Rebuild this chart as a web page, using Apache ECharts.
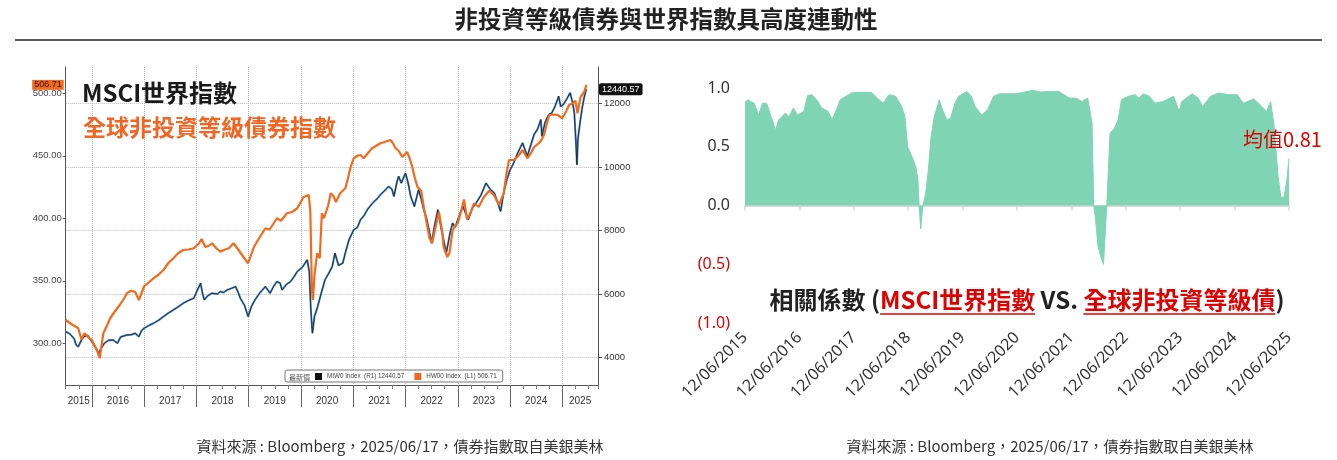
<!DOCTYPE html>
<html>
<head>
<meta charset="utf-8">
<title>ECharts</title>
<script src="https://cdn.jsdelivr.net/npm/echarts@6/dist/echarts.min.js"></script>
<style>
body { margin: 0; background: #fff; }
#main { width: 1337px; height: 460px; }
</style>
</head>
<body>
<div id="main"></div>
<script type="text/javascript">
// ---- left panel: HY index (left axis) and MSCI World (right axis), x = decimal year
var hyDates = [2015.50, 2015.62, 2015.74, 2015.80, 2015.86, 2015.95, 2016.00, 2016.10, 2016.15, 2016.22,
  2016.30, 2016.35, 2016.45, 2016.54, 2016.62, 2016.67, 2016.75, 2016.83, 2016.90, 2016.95,
  2017.00, 2017.10, 2017.18, 2017.28, 2017.37, 2017.46, 2017.56, 2017.65, 2017.75, 2017.85,
  2017.95, 2018.05, 2018.10, 2018.17, 2018.24, 2018.30, 2018.38, 2018.46, 2018.55, 2018.62,
  2018.71, 2018.80, 2018.90, 2018.99, 2019.10, 2019.20, 2019.32, 2019.40, 2019.48, 2019.54,
  2019.62, 2019.73, 2019.83, 2019.93, 2020.05, 2020.15, 2020.18, 2020.21, 2020.23, 2020.26,
  2020.31, 2020.36, 2020.40, 2020.44, 2020.47, 2020.52, 2020.57, 2020.62, 2020.67, 2020.75,
  2020.85, 2020.90, 2020.95, 2021.01, 2021.08, 2021.14, 2021.20, 2021.28, 2021.36, 2021.44,
  2021.52, 2021.60, 2021.71, 2021.76, 2021.81, 2021.87, 2021.94, 2022.03, 2022.08, 2022.13,
  2022.18, 2022.23, 2022.30, 2022.35, 2022.42, 2022.46, 2022.51, 2022.56, 2022.64, 2022.70,
  2022.73, 2022.80, 2022.84, 2022.90, 2022.95, 2023.00, 2023.06, 2023.12, 2023.18, 2023.25,
  2023.31, 2023.40, 2023.50, 2023.60, 2023.69, 2023.79, 2023.88, 2023.93, 2023.98, 2024.08,
  2024.16, 2024.24, 2024.33, 2024.40, 2024.46, 2024.55, 2024.60, 2024.65, 2024.70, 2024.75,
  2024.85, 2024.91, 2025.00, 2025.08, 2025.13, 2025.20, 2025.25, 2025.29, 2025.35, 2025.42, 2025.46];
var hyValues = [318.6, 315, 312, 303, 308, 304, 302.6, 294, 288, 308,
  315, 320, 326, 331, 336, 340, 342, 341, 334.6, 340,
  345.6, 349, 352, 355, 358.6, 364, 368, 372, 374.6, 375,
  376, 380, 383.4, 377, 378, 380, 376, 373.3, 375, 376,
  380, 375, 369, 364, 377, 384, 392, 391, 396, 400,
  398, 404, 405, 408, 417, 418.6, 405, 342.6, 334.6, 355,
  372, 368, 404, 400, 398.6, 410, 420, 418, 413, 420,
  424, 432, 441, 448, 450, 450.6, 448, 452, 456, 458,
  460, 461, 462.6, 460, 456, 454, 449, 453, 448, 441,
  432, 425, 422, 409, 393, 384, 380, 390, 405, 390,
  377, 369, 372, 390, 394, 396, 405, 415, 399, 405,
  412, 409, 417, 422, 418.6, 410.6, 420, 435, 446.6, 446.6,
  450, 454.6, 448, 452, 457, 460, 462.6, 466.6, 475, 482.6,
  483, 482.6, 480, 486, 490.6, 492, 494, 484, 497, 501, 506.71];

var msciDates = [2015.50, 2015.58, 2015.66, 2015.70, 2015.74, 2015.80, 2015.85, 2015.92, 2016.00, 2016.08,
  2016.13, 2016.18, 2016.24, 2016.32, 2016.41, 2016.49, 2016.55, 2016.67, 2016.75, 2016.83,
  2016.90, 2016.95, 2017.00, 2017.10, 2017.18, 2017.28, 2017.37, 2017.46, 2017.56, 2017.65,
  2017.75, 2017.85, 2017.95, 2018.04, 2018.08, 2018.12, 2018.15, 2018.22, 2018.30, 2018.40,
  2018.46, 2018.52, 2018.59, 2018.67, 2018.75, 2018.80, 2018.84, 2018.92, 2018.99, 2019.05,
  2019.12, 2019.22, 2019.32, 2019.41, 2019.48, 2019.54, 2019.60, 2019.64, 2019.72, 2019.80,
  2019.87, 2019.93, 2020.03, 2020.12, 2020.16, 2020.19, 2020.22, 2020.26, 2020.32, 2020.40,
  2020.46, 2020.53, 2020.60, 2020.65, 2020.72, 2020.80, 2020.85, 2020.92, 2021.01, 2021.08,
  2021.14, 2021.20, 2021.27, 2021.34, 2021.40, 2021.46, 2021.52, 2021.60, 2021.68, 2021.74,
  2021.78, 2021.84, 2021.87, 2021.92, 2022.00, 2022.05, 2022.10, 2022.17, 2022.25, 2022.30,
  2022.35, 2022.40, 2022.45, 2022.50, 2022.55, 2022.62, 2022.68, 2022.73, 2022.78, 2022.85,
  2022.90, 2022.95, 2023.00, 2023.06, 2023.10, 2023.16, 2023.20, 2023.28, 2023.35, 2023.44,
  2023.54, 2023.62, 2023.70, 2023.76, 2023.82, 2023.88, 2023.94, 2024.00, 2024.07, 2024.15,
  2024.24, 2024.33, 2024.40, 2024.46, 2024.53, 2024.59, 2024.61, 2024.67, 2024.74, 2024.80,
  2024.86, 2024.93, 2024.97, 2025.02, 2025.09, 2025.15, 2025.20, 2025.23, 2025.26, 2025.28,
  2025.30, 2025.34, 2025.38, 2025.42, 2025.46];
var msciValues = [4819, 4750, 4600, 4400, 4346, 4550, 4661, 4700, 4504, 4300,
  4139, 4300, 4453, 4550, 4557, 4453, 4650, 4715, 4720, 4767,
  4661, 4850, 4926, 5020, 5083, 5180, 5292, 5400, 5503, 5600,
  5713, 5800, 5871, 6200, 6344, 6000, 5817, 5950, 6029, 6000,
  6081, 6050, 6133, 6180, 6237, 6050, 5871, 5650, 5292, 5600,
  5817, 6050, 6237, 6029, 6250, 6394, 6350, 6133, 6300, 6394,
  6550, 6709, 6850, 7077, 6709, 5500, 4769, 5300, 5607, 6100,
  6447, 6650, 6867, 7288, 6900, 6972, 7300, 7708, 8023, 8100,
  8338, 8450, 8653, 8800, 8914, 9000, 9125, 9250, 9386, 9300,
  9072, 9550, 9702, 9492, 9808, 9500, 9072, 8757, 9282, 9000,
  8653, 8400, 8023, 7604, 8100, 8653, 8100, 7700, 7288, 7900,
  8234, 8100, 8338, 8600, 8757, 8500, 8338, 8700, 8862, 9100,
  9493, 9300, 9177, 8900, 8600, 9200, 9597, 9900, 10124, 10450,
  10754, 10334, 10700, 11015, 11200, 11488, 10964, 11400, 11645, 11700,
  11900, 12222, 11900, 11960, 12150, 12329, 12000, 11698, 10800, 10070,
  10900, 11400, 11855, 12200, 12440.57];

var lastMsci = 12440.57;
var lastHy = 506.71;
var yearBounds = [2016, 2017, 2018, 2019, 2020, 2021, 2022, 2023, 2024, 2025];
var yearLabelValues = [2015.75, 2016.5, 2017.5, 2018.5, 2019.5, 2020.5, 2021.5, 2022.5, 2023.5, 2024.5, 2025.34];
var hyTicks = [300, 350, 400, 450, 500];
var msciTicks = [4000, 6000, 8000, 10000, 12000];

// ---- right panel: rolling correlation, x = years since 12/06/2015
var corrYears = [0.00, 0.06, 0.10, 0.17, 0.25, 0.32, 0.40, 0.47, 0.56, 0.62,
  0.74, 0.81, 0.89, 0.96, 1.08, 1.15, 1.23, 1.34, 1.41, 1.53,
  1.60, 1.68, 1.75, 1.86, 1.98, 2.13, 2.32, 2.43, 2.54, 2.65,
  2.77, 2.88, 2.94, 2.99, 3.07, 3.14, 3.18, 3.20, 3.23, 3.27,
  3.32, 3.37, 3.42, 3.48, 3.57, 3.63, 3.71, 3.78, 3.86, 3.93,
  4.08, 4.16, 4.23, 4.35, 4.46, 4.57, 4.68, 4.83, 4.98, 5.29,
  5.44, 5.59, 5.77, 5.96, 6.08, 6.19, 6.30, 6.38, 6.41, 6.44,
  6.49, 6.55, 6.59, 6.62, 6.65, 6.71, 6.79, 6.86, 6.92, 7.05,
  7.17, 7.24, 7.32, 7.43, 7.54, 7.69, 7.88, 7.98, 8.03, 8.22,
  8.33, 8.41, 8.56, 8.71, 8.89, 9.05, 9.16, 9.35, 9.50, 9.59,
  9.66, 9.72, 9.80, 9.85, 9.91, 9.96, 10.00];
var corrValues = [0.88, 0.90, 0.886, 0.87, 0.77, 0.87, 0.866, 0.77, 0.643, 0.73,
  0.786, 0.757, 0.83, 0.77, 0.80, 0.934, 0.943, 0.886, 0.83, 0.80,
  0.73, 0.814, 0.90, 0.93, 0.963, 0.963, 0.963, 0.914, 0.871, 0.943,
  0.93, 0.843, 0.757, 0.50, 0.414, 0.33, 0.214, 0.0, -0.20, 0.0,
  0.10, 0.30, 0.586, 0.757, 0.90, 0.814, 0.73, 0.743, 0.87, 0.93,
  0.97, 0.93, 0.843, 0.77, 0.814, 0.93, 0.951, 0.951, 0.951, 0.98,
  0.966, 0.971, 0.971, 0.914, 0.914, 0.886, 0.914, 0.70, 0.0, -0.10,
  -0.35, -0.45, -0.50, -0.25, 0.0, 0.614, 0.657, 0.73, 0.90, 0.93,
  0.943, 0.914, 0.951, 0.93, 0.871, 0.886, 0.93, 0.80, 0.886, 0.951,
  0.914, 0.843, 0.93, 0.957, 0.943, 0.943, 0.871, 0.906, 0.843, 0.80,
  0.886, 0.70, 0.243, 0.07, 0.07, 0.214, 0.40];
var corrMean = 0.81;
var corrTickLabels = ['12/06/2015', '12/06/2016', '12/06/2017', '12/06/2018', '12/06/2019', '12/06/2020',
  '12/06/2021', '12/06/2022', '12/06/2023', '12/06/2024', '12/06/2025'];

function pairs(xs, ys) {
  return xs.map(function (x, i) { return [x, ys[i]]; });
}

var cjk = '"Noto Sans CJK TC", "Noto Sans", sans-serif';
var orange = '#f26a1b';
var mint = '#80d4b6';
var red = '#e00000';
var source = '資料來源 : Bloomberg，2025/06/17，債券指數取自美銀美林';

// measure the right-panel caption so the red underlines sit under the red parts
var capFont = 'bold 24px ' + cjk;
var capParts = ['相關係數 (', 'MSCI世界指數', ' VS. ', '全球非投資等級債', ')'];
var mctx = document.createElement('canvas').getContext('2d');
mctx.font = capFont;
var capW = capParts.map(function (s) { return mctx.measureText(s).width; });
var capTotal = capW.reduce(function (a, b) { return a + b; }, 0);
var capCenter = 1027, capY = 300;
var capStart = capCenter - capTotal / 2;
var u1 = capStart + capW[0];
var u2 = u1 + capW[1] + capW[2];

var myChart = echarts.init(document.getElementById('main'));

var option = {
  animation: false,
  backgroundColor: '#fff',
  grid: [
    { left: 65.7, top: 67, width: 532.3, height: 318 },
    { left: 745, top: 88, width: 544, height: 235 }
  ],
  legend: {
    left: 285, top: 370, padding: [3, 6, 2, 30], itemGap: 10,
    itemWidth: 7, itemHeight: 7, icon: 'rect',
    borderColor: '#777', borderWidth: 1, borderRadius: 2, backgroundColor: '#fff',
    textStyle: { fontSize: 6.3, color: '#444', fontFamily: 'Liberation Sans' },
    data: [
      { name: 'MIW0 Index', itemStyle: { color: '#111' } },
      { name: 'HW00 Index', itemStyle: { color: orange } }
    ],
    formatter: function (name) {
      return name === 'MIW0 Index' ? name + '  (R1) ' + lastMsci : name + '  (L1) ' + lastHy;
    }
  },
  xAxis: [{
    gridIndex: 0, type: 'value', min: 2015.5, max: 2025.683, position: 'bottom',
    axisLine: { onZero: false, lineStyle: { color: '#555' } },
    axisTick: { customValues: yearBounds, length: 22, lineStyle: { color: '#666' } },
    axisLabel: {
      customValues: yearLabelValues, margin: 11, fontSize: 10, color: '#333', fontFamily: 'Liberation Sans',
      formatter: function (v) { return String(Math.floor(v)); }
    },
    splitLine: { show: true, lineStyle: { type: 'dotted', color: '#bbb' } }
  }, {
    gridIndex: 0, type: 'value', min: 2015.5, max: 2025.683, interval: 0.25, position: 'bottom',
    axisLine: { show: false, onZero: false },
    axisTick: { length: 4, lineStyle: { color: '#777' } },
    axisLabel: { show: false },
    splitLine: { show: false }
  }, {
    gridIndex: 1, type: 'value', min: 0, max: 10, interval: 1, position: 'bottom',
    axisLine: { onZero: true, lineStyle: { color: '#d9d9d9', width: 2 } },
    axisTick: { length: 5, lineStyle: { color: '#d9d9d9', width: 1.5 } },
    axisLabel: { show: false },
    splitLine: { show: false }
  }, {
    gridIndex: 1, type: 'value', min: 0, max: 10, interval: 1, position: 'bottom',
    axisLine: { show: false, onZero: false },
    axisTick: { show: false },
    axisLabel: {
      rotate: 45, margin: 12, fontSize: 16, color: '#333', fontFamily: '"Noto Sans", sans-serif',
      formatter: function (v) { return corrTickLabels[Math.round(v)]; }
    },
    splitLine: { show: false }
  }],
  yAxis: [{
    gridIndex: 0, type: 'value', min: 266.6, max: 521, position: 'left',
    axisLine: { show: true, onZero: false, lineStyle: { color: '#555' } },
    axisTick: { show: true, customValues: hyTicks, length: 3, lineStyle: { color: '#555' } },
    axisLabel: {
      customValues: hyTicks, margin: 4, fontSize: 9.5, color: '#444', fontFamily: 'Liberation Sans',
      formatter: function (v) { return Number(v).toFixed(2); }
    },
    splitLine: { show: false }
  }, {
    gridIndex: 0, type: 'value', min: 3141, max: 13142, position: 'right',
    axisLine: { show: true, onZero: false, lineStyle: { color: '#555' } },
    axisTick: { show: true, customValues: msciTicks, length: 4, lineStyle: { color: '#555' } },
    axisLabel: {
      customValues: msciTicks, margin: 6, fontSize: 9.5, color: '#333', fontFamily: 'Liberation Sans',
      formatter: function (v) { return String(v); }
    },
    splitLine: { show: true, lineStyle: { type: 'dotted', color: '#bbb' } }
  }, {
    gridIndex: 1, type: 'value', min: -1, max: 1, interval: 0.5,
    axisLine: { show: false }, axisTick: { show: false }, splitLine: { show: false },
    axisLabel: {
      margin: 15, fontSize: 16, fontFamily: '"Noto Sans", sans-serif',
      color: function (v) { return Number(v) < 0 ? red : '#333'; },
      formatter: function (v) { return v < 0 ? '(' + (-v).toFixed(1) + ')' : v.toFixed(1); }
    }
  }],
  series: [{
    name: 'MIW0 blue', type: 'line', xAxisIndex: 0, yAxisIndex: 1,
    showSymbol: false, silent: true,
    lineStyle: { color: '#4a8ad0', width: 2 }, itemStyle: { color: '#4a8ad0' },
    data: pairs(msciDates, msciValues)
  }, {
    name: 'MIW0 Index', type: 'line', xAxisIndex: 0, yAxisIndex: 1,
    showSymbol: false, silent: true,
    lineStyle: { color: '#1a1a1a', width: 0.8 }, itemStyle: { color: '#111' },
    data: pairs(msciDates, msciValues),
    markLine: {
      silent: true, symbol: 'none', lineStyle: { color: 'rgba(0,0,0,0)', width: 0 },
      label: {
        show: true, position: 'end', distance: 1, formatter: String(lastMsci),
        backgroundColor: '#111', color: '#fff', fontSize: 9, fontFamily: 'Liberation Sans',
        padding: [2, 3, 1, 3], borderRadius: 2
      },
      data: [{ yAxis: lastMsci }]
    }
  }, {
    name: 'HW00 Index', type: 'line', xAxisIndex: 0, yAxisIndex: 0,
    showSymbol: false, silent: true,
    lineStyle: { color: orange, width: 2.2 }, itemStyle: { color: orange },
    data: pairs(hyDates, hyValues),
    markLine: {
      silent: true, symbol: 'none', lineStyle: { color: 'rgba(0,0,0,0)', width: 0 },
      label: {
        show: true, position: 'start', distance: 2, formatter: lastHy.toFixed(2),
        backgroundColor: orange, color: '#2a1000', fontSize: 9, fontFamily: 'Liberation Sans',
        padding: [1, 2, 0, 2]
      },
      data: [{ yAxis: lastHy }]
    }
  }, {
    name: 'corr', type: 'line', xAxisIndex: 3, yAxisIndex: 2,
    showSymbol: false, silent: true,
    lineStyle: { color: mint, width: 1 }, itemStyle: { color: mint },
    areaStyle: { color: mint, opacity: 1 },
    data: pairs(corrYears, corrValues),
    markLine: {
      silent: true, symbol: 'none',
      lineStyle: { color: red, type: [7, 4], width: 2 },
      label: { show: false },
      data: [[{ coord: [-0.05, corrMean] }, { coord: [10.2, corrMean] }]]
    }
  }],
  graphic: [
    { type: 'text', x: 666, y: 19, z: 100, style: { text: '非投資等級債券與世界指數具高度連動性', font: 'bold 23.5px ' + cjk, fill: '#222', textAlign: 'center', textVerticalAlign: 'middle' } },
    { type: 'line', z: 100, shape: { x1: 15, y1: 40, x2: 1322, y2: 40 }, style: { stroke: '#222', lineWidth: 1.5 } },
    { type: 'text', x: 82, y: 93, z: 100, style: { text: 'MSCI世界指數', font: 'bold 24px ' + cjk, fill: '#1a1a1a', textVerticalAlign: 'middle' } },
    { type: 'text', x: 83, y: 127, z: 100, style: { text: '全球非投資等級債券指數', font: 'bold 23px ' + cjk, fill: '#f26522', textVerticalAlign: 'middle' } },
    { type: 'text', x: 289, y: 377, z: 100, style: { text: '最新價', font: '7px ' + cjk, fill: '#555', textVerticalAlign: 'middle' } },
    { type: 'text', x: 1243, y: 139, z: 100, style: { text: '均值' + corrMean, font: '20px ' + cjk, fill: red, textVerticalAlign: 'middle' } },
    {
      type: 'text', x: capStart, y: capY, z: 100,
      style: {
        text: '{k|' + capParts[0] + '}{r|' + capParts[1] + '}{k|' + capParts[2] + '}{r|' + capParts[3] + '}{k|' + capParts[4] + '}',
        textAlign: 'left', textVerticalAlign: 'middle',
        rich: {
          k: { fill: '#222', font: capFont },
          r: { fill: red, font: capFont }
        }
      }
    },
    { type: 'line', z: 100, shape: { x1: u1, y1: 314, x2: u1 + capW[1], y2: 314 }, style: { stroke: red, lineWidth: 1.5 } },
    { type: 'line', z: 100, shape: { x1: u2, y1: 314, x2: u2 + capW[3], y2: 314 }, style: { stroke: red, lineWidth: 1.5 } },
    { type: 'text', x: 400, y: 446, z: 100, style: { text: source, font: '15px ' + cjk, fill: '#333', textAlign: 'center', textVerticalAlign: 'middle' } },
    { type: 'text', x: 1050, y: 446, z: 100, style: { text: source, font: '15px ' + cjk, fill: '#333', textAlign: 'center', textVerticalAlign: 'middle' } }
  ]
};

myChart.setOption(option);
</script>
</body>
</html>
